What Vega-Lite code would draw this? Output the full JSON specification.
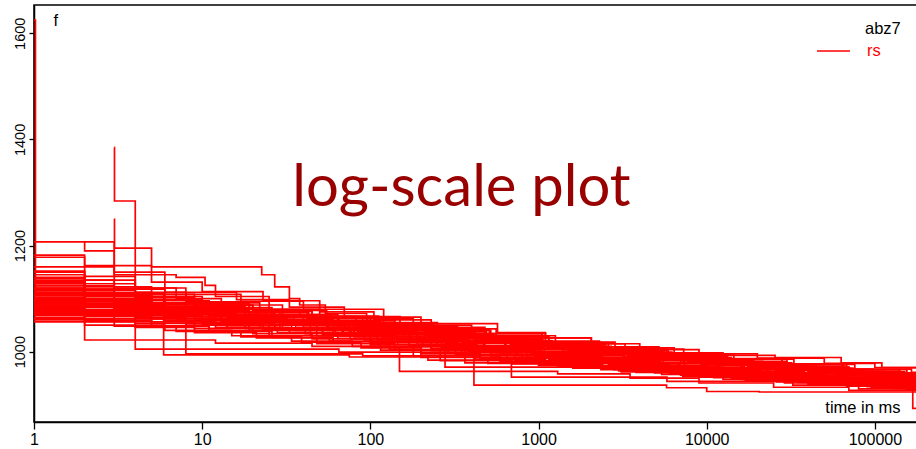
{
"$schema": "https://vega.github.io/schema/vega-lite/v6.json",
"width": 883, "height": 417,
"autosize": {"type": "none"},
"padding": {"left": 34, "top": 5, "right": 0, "bottom": 27},
"background": "white",
"title": {"text": "log-scale plot", "font": "Lato", "fontSize": 58, "fontWeight": "normal", "color": "#990000", "anchor": "middle", "orient": "top", "offset": -259, "dx": -14, "baseline": "alphabetic"},
"config": {"view": {"stroke": "#000", "strokeWidth": 1.5}, "font": "Liberation Sans"},
"data": {"values": [
{"r":1,"t":1,"f":1625},{"r":1,"t":1.02,"f":1112},{"r":1,"t":2,"f":1098},{"r":1,"t":5,"f":1090},{"r":1,"t":9,"f":1079},{"r":1,"t":18,"f":1070},{"r":1,"t":40,"f":1058},{"r":1,"t":85,"f":1047},{"r":1,"t":170,"f":1036},{"r":1,"t":420,"f":1021},{"r":1,"t":900,"f":1010},{"r":1,"t":2100,"f":999},{"r":1,"t":4800,"f":988},{"r":1,"t":11000,"f":977},{"r":1,"t":26000,"f":968},{"r":1,"t":60000,"f":958},{"r":1,"t":130000,"f":951},{"r":1,"t":178000,"f":951},
{"r":2,"t":1,"f":1207},{"r":2,"t":2,"f":1190},{"r":2,"t":3,"f":1150},{"r":2,"t":6,"f":1112},{"r":2,"t":16,"f":1098},{"r":2,"t":33,"f":1084},{"r":2,"t":70,"f":1066},{"r":2,"t":150,"f":1048},{"r":2,"t":330,"f":1030},{"r":2,"t":760,"f":1016},{"r":2,"t":1600,"f":1004},{"r":2,"t":3500,"f":994},{"r":2,"t":8500,"f":983},{"r":2,"t":19000,"f":973},{"r":2,"t":45000,"f":962},{"r":2,"t":95000,"f":955},{"r":2,"t":178000,"f":955},
{"r":3,"t":2,"f":1207},{"r":3,"t":3,"f":1120},{"r":3,"t":7,"f":1100},{"r":3,"t":13,"f":1088},{"r":3,"t":30,"f":1070},{"r":3,"t":64,"f":1058},{"r":3,"t":140,"f":1042},{"r":3,"t":300,"f":1028},{"r":3,"t":700,"f":1012},{"r":3,"t":1500,"f":1001},{"r":3,"t":3200,"f":990},{"r":3,"t":7000,"f":980},{"r":3,"t":16000,"f":970},{"r":3,"t":38000,"f":960},{"r":3,"t":90000,"f":950},{"r":3,"t":178000,"f":950},
{"r":4,"t":3,"f":1385},{"r":4,"t":3.01,"f":1284},{"r":4,"t":4,"f":1005},{"r":4,"t":65,"f":999},{"r":4,"t":180,"f":992},{"r":4,"t":450,"f":986},{"r":4,"t":1100,"f":978},{"r":4,"t":2400,"f":971},{"r":4,"t":5500,"f":963},{"r":4,"t":12500,"f":955},{"r":4,"t":30000,"f":947},{"r":4,"t":70000,"f":940},{"r":4,"t":150000,"f":935},{"r":4,"t":178000,"f":935},
{"r":5,"t":3,"f":1250},{"r":5,"t":3.01,"f":1195},{"r":5,"t":5,"f":1160},{"r":5,"t":22.6,"f":1145},{"r":5,"t":27,"f":1122},{"r":5,"t":33,"f":1100},{"r":5,"t":38,"f":1088},{"r":5,"t":54,"f":1072},{"r":5,"t":95,"f":1062},{"r":5,"t":180,"f":1050},{"r":5,"t":400,"f":1034},{"r":5,"t":1100,"f":1026},{"r":5,"t":2060,"f":1015},{"r":5,"t":3270,"f":1005},{"r":5,"t":7300,"f":998},{"r":5,"t":12500,"f":993},{"r":5,"t":25500,"f":989},{"r":5,"t":63000,"f":979},{"r":5,"t":110000,"f":970},{"r":5,"t":178000,"f":966},
{"r":6,"t":1,"f":1182},{"r":6,"t":2,"f":1160},{"r":6,"t":3,"f":1145},{"r":6,"t":7,"f":1140},{"r":6,"t":10.4,"f":1125},{"r":6,"t":12,"f":1104},{"r":6,"t":25,"f":1078},{"r":6,"t":55,"f":1064},{"r":6,"t":120,"f":1050},{"r":6,"t":240,"f":1040},{"r":6,"t":520,"f":1028},{"r":6,"t":1150,"f":1014},{"r":6,"t":2500,"f":1003},{"r":6,"t":5800,"f":992},{"r":6,"t":13000,"f":981},{"r":6,"t":30000,"f":971},{"r":6,"t":70000,"f":962},{"r":6,"t":150000,"f":956},{"r":6,"t":178000,"f":956},
{"r":7,"t":1,"f":1178},{"r":7,"t":2,"f":1162},{"r":7,"t":5,"f":1131},{"r":7,"t":10,"f":1113},{"r":7,"t":23,"f":1096},{"r":7,"t":50,"f":1075},{"r":7,"t":105,"f":1060},{"r":7,"t":230,"f":1046},{"r":7,"t":480,"f":1034},{"r":7,"t":1050,"f":1020},{"r":7,"t":2300,"f":1009},{"r":7,"t":5200,"f":998},{"r":7,"t":12000,"f":987},{"r":7,"t":28000,"f":977},{"r":7,"t":65000,"f":966},{"r":7,"t":140000,"f":960},{"r":7,"t":178000,"f":960},
{"r":8,"t":1,"f":1160},{"r":8,"t":2,"f":1142},{"r":8,"t":4,"f":1108},{"r":8,"t":9,"f":1090},{"r":8,"t":19,"f":1074},{"r":8,"t":42,"f":1063},{"r":8,"t":90,"f":1049},{"r":8,"t":190,"f":1036},{"r":8,"t":410,"f":1024},{"r":8,"t":880,"f":1011},{"r":8,"t":1900,"f":1000},{"r":8,"t":4300,"f":990},{"r":8,"t":9500,"f":980},{"r":8,"t":22000,"f":970},{"r":8,"t":52000,"f":961},{"r":8,"t":120000,"f":953},{"r":8,"t":178000,"f":953},
{"r":9,"t":1,"f":1152},{"r":9,"t":2,"f":1118},{"r":9,"t":6,"f":1096},{"r":9,"t":11,"f":1083},{"r":9,"t":26,"f":1070},{"r":9,"t":58,"f":1057},{"r":9,"t":115,"f":1044},{"r":9,"t":250,"f":1031},{"r":9,"t":560,"f":1018},{"r":9,"t":1200,"f":1006},{"r":9,"t":2700,"f":996},{"r":9,"t":6000,"f":985},{"r":9,"t":14000,"f":975},{"r":9,"t":32000,"f":965},{"r":9,"t":75000,"f":956},{"r":9,"t":160000,"f":950},{"r":9,"t":178000,"f":950},
{"r":10,"t":1,"f":1145},{"r":10,"t":2,"f":1022},{"r":10,"t":12,"f":1016},{"r":10,"t":45,"f":1010},{"r":10,"t":130,"f":1004},{"r":10,"t":350,"f":995},{"r":10,"t":800,"f":988},{"r":10,"t":1800,"f":980},{"r":10,"t":4000,"f":973},{"r":10,"t":9000,"f":965},{"r":10,"t":21000,"f":957},{"r":10,"t":50000,"f":949},{"r":10,"t":110000,"f":942},{"r":10,"t":178000,"f":942},
{"r":11,"t":1,"f":1140},{"r":11,"t":2,"f":1128},{"r":11,"t":4,"f":1112},{"r":11,"t":8,"f":1094},{"r":11,"t":17,"f":1080},{"r":11,"t":38,"f":1066},{"r":11,"t":82,"f":1053},{"r":11,"t":175,"f":1040},{"r":11,"t":390,"f":1027},{"r":11,"t":860,"f":1014},{"r":11,"t":1900,"f":1003},{"r":11,"t":4200,"f":992},{"r":11,"t":9400,"f":982},{"r":11,"t":21500,"f":972},{"r":11,"t":50000,"f":963},{"r":11,"t":115000,"f":956},{"r":11,"t":178000,"f":956},
{"r":12,"t":1,"f":1135},{"r":12,"t":3,"f":1110},{"r":12,"t":5.9,"f":994},{"r":12,"t":75,"f":990},{"r":12,"t":220,"f":984},{"r":12,"t":500,"f":978},{"r":12,"t":1300,"f":971},{"r":12,"t":3000,"f":964},{"r":12,"t":7000,"f":956},{"r":12,"t":16000,"f":948},{"r":12,"t":40000,"f":940},{"r":12,"t":90000,"f":934},{"r":12,"t":178000,"f":934},
{"r":13,"t":1,"f":1130},{"r":13,"t":2,"f":1108},{"r":13,"t":8,"f":996},{"r":13,"t":90,"f":992},{"r":13,"t":260,"f":983},{"r":13,"t":700,"f":977},{"r":13,"t":1600,"f":969},{"r":13,"t":3800,"f":961},{"r":13,"t":9000,"f":952},{"r":13,"t":22000,"f":945},{"r":13,"t":55000,"f":938},{"r":13,"t":130000,"f":931},{"r":13,"t":178000,"f":931},
{"r":14,"t":1,"f":1125},{"r":14,"t":2,"f":1095},{"r":14,"t":4,"f":1080},{"r":14,"t":10,"f":1060},{"r":14,"t":25,"f":1045},{"r":14,"t":60,"f":1030},{"r":14,"t":130,"f":1008},{"r":14,"t":200,"f":989},{"r":14,"t":413,"f":937},{"r":14,"t":5770,"f":932},{"r":14,"t":10000,"f":925},{"r":14,"t":20500,"f":924},{"r":14,"t":178000,"f":924},
{"r":15,"t":1,"f":1120},{"r":15,"t":2,"f":1100},{"r":15,"t":5,"f":1084},{"r":15,"t":11,"f":1070},{"r":15,"t":24,"f":1058},{"r":15,"t":55,"f":1043},{"r":15,"t":120,"f":1028},{"r":15,"t":280,"f":1005},{"r":15,"t":420,"f":986},{"r":15,"t":690,"f":952},{"r":15,"t":5800,"f":944},{"r":15,"t":32500,"f":937},{"r":15,"t":80000,"f":930},{"r":15,"t":178000,"f":930},
{"r":16,"t":1,"f":1115},{"r":16,"t":2,"f":1090},{"r":16,"t":4,"f":1074},{"r":16,"t":9,"f":1062},{"r":16,"t":20,"f":1050},{"r":16,"t":48,"f":1030},{"r":16,"t":100,"f":1008},{"r":16,"t":149,"f":963},{"r":16,"t":1300,"f":958},{"r":16,"t":3500,"f":950},{"r":16,"t":9000,"f":941},{"r":16,"t":25000,"f":933},{"r":16,"t":70000,"f":927},{"r":16,"t":178000,"f":927},
{"r":17,"t":1,"f":1110},{"r":17,"t":3,"f":1092},{"r":17,"t":7,"f":1076},{"r":17,"t":15,"f":1064},{"r":17,"t":35,"f":1050},{"r":17,"t":80,"f":1036},{"r":17,"t":150,"f":1018},{"r":17,"t":278,"f":971},{"r":17,"t":2800,"f":966},{"r":17,"t":6000,"f":958},{"r":17,"t":14000,"f":950},{"r":17,"t":35000,"f":942},{"r":17,"t":90000,"f":935},{"r":17,"t":178000,"f":935},
{"r":18,"t":1,"f":1105},{"r":18,"t":2,"f":1094},{"r":18,"t":5,"f":1082},{"r":18,"t":12,"f":1070},{"r":18,"t":30,"f":1054},{"r":18,"t":70,"f":1040},{"r":18,"t":160,"f":1024},{"r":18,"t":365,"f":979},{"r":18,"t":1000,"f":974},{"r":18,"t":2500,"f":968},{"r":18,"t":6500,"f":960},{"r":18,"t":15000,"f":952},{"r":18,"t":40000,"f":944},{"r":18,"t":100000,"f":937},{"r":18,"t":178000,"f":937},
{"r":19,"t":1,"f":1100},{"r":19,"t":2,"f":1088},{"r":19,"t":6,"f":1076},{"r":19,"t":14,"f":1063},{"r":19,"t":32,"f":1050},{"r":19,"t":75,"f":1036},{"r":19,"t":170,"f":1022},{"r":19,"t":390,"f":1008},{"r":19,"t":900,"f":996},{"r":19,"t":2000,"f":985},{"r":19,"t":4500,"f":974},{"r":19,"t":10000,"f":963},{"r":19,"t":24000,"f":953},{"r":19,"t":60000,"f":942},{"r":19,"t":168000,"f":893},{"r":19,"t":178000,"f":893},
{"r":20,"t":1,"f":1096},{"r":20,"t":3,"f":1083},{"r":20,"t":8,"f":1070},{"r":20,"t":18,"f":1058},{"r":20,"t":40,"f":1046},{"r":20,"t":95,"f":1032},{"r":20,"t":210,"f":1019},{"r":20,"t":470,"f":1006},{"r":20,"t":1000,"f":995},{"r":20,"t":2300,"f":984},{"r":20,"t":5300,"f":973},{"r":20,"t":12000,"f":963},{"r":20,"t":28000,"f":954},{"r":20,"t":66000,"f":946},{"r":20,"t":150000,"f":940},{"r":20,"t":178000,"f":940},
{"r":21,"t":1,"f":1092},{"r":21,"t":2,"f":1080},{"r":21,"t":5,"f":1070},{"r":21,"t":13,"f":1058},{"r":21,"t":29,"f":1044},{"r":21,"t":68,"f":1031},{"r":21,"t":145,"f":1018},{"r":21,"t":330,"f":1004},{"r":21,"t":750,"f":993},{"r":21,"t":1700,"f":983},{"r":21,"t":4000,"f":972},{"r":21,"t":9200,"f":962},{"r":21,"t":21000,"f":953},{"r":21,"t":48000,"f":945},{"r":21,"t":110000,"f":939},{"r":21,"t":178000,"f":939},
{"r":22,"t":1,"f":1088},{"r":22,"t":2,"f":1076},{"r":22,"t":4,"f":1068},{"r":22,"t":10,"f":1055},{"r":22,"t":22,"f":1045},{"r":22,"t":52,"f":1033},{"r":22,"t":110,"f":1022},{"r":22,"t":250,"f":1010},{"r":22,"t":560,"f":998},{"r":22,"t":1250,"f":988},{"r":22,"t":2900,"f":978},{"r":22,"t":6800,"f":968},{"r":22,"t":16000,"f":958},{"r":22,"t":37000,"f":950},{"r":22,"t":85000,"f":943},{"r":22,"t":178000,"f":943},
{"r":23,"t":1,"f":1084},{"r":23,"t":3,"f":1072},{"r":23,"t":7,"f":1062},{"r":23,"t":16,"f":1050},{"r":23,"t":36,"f":1040},{"r":23,"t":80,"f":1028},{"r":23,"t":190,"f":1014},{"r":23,"t":430,"f":1002},{"r":23,"t":950,"f":991},{"r":23,"t":2200,"f":980},{"r":23,"t":5000,"f":970},{"r":23,"t":11500,"f":960},{"r":23,"t":27000,"f":952},{"r":23,"t":62000,"f":945},{"r":23,"t":140000,"f":938},{"r":23,"t":178000,"f":938},
{"r":24,"t":1,"f":1080},{"r":24,"t":2,"f":1068},{"r":24,"t":6,"f":1058},{"r":24,"t":14,"f":1046},{"r":24,"t":33,"f":1036},{"r":24,"t":76,"f":1024},{"r":24,"t":170,"f":1012},{"r":24,"t":380,"f":1000},{"r":24,"t":850,"f":989},{"r":24,"t":1900,"f":979},{"r":24,"t":4400,"f":969},{"r":24,"t":10000,"f":959},{"r":24,"t":23000,"f":950},{"r":24,"t":54000,"f":942},{"r":24,"t":125000,"f":936},{"r":24,"t":178000,"f":936},
{"r":25,"t":1,"f":1076},{"r":25,"t":2,"f":1070},{"r":25,"t":5,"f":1063},{"r":25,"t":12,"f":1054},{"r":25,"t":27,"f":1042},{"r":25,"t":62,"f":1030},{"r":25,"t":135,"f":1017},{"r":25,"t":300,"f":1005},{"r":25,"t":680,"f":994},{"r":25,"t":1500,"f":984},{"r":25,"t":3400,"f":974},{"r":25,"t":7800,"f":964},{"r":25,"t":18000,"f":955},{"r":25,"t":42000,"f":947},{"r":25,"t":98000,"f":941},{"r":25,"t":178000,"f":941},
{"r":26,"t":1,"f":1072},{"r":26,"t":3,"f":1062},{"r":26,"t":8,"f":1050},{"r":26,"t":19,"f":1040},{"r":26,"t":44,"f":1030},{"r":26,"t":100,"f":1018},{"r":26,"t":230,"f":1006},{"r":26,"t":520,"f":995},{"r":26,"t":1150,"f":985},{"r":26,"t":2600,"f":975},{"r":26,"t":6000,"f":966},{"r":26,"t":14000,"f":957},{"r":26,"t":33000,"f":949},{"r":26,"t":77000,"f":943},{"r":26,"t":178000,"f":943},
{"r":27,"t":1,"f":1068},{"r":27,"t":2,"f":1058},{"r":27,"t":5,"f":1048},{"r":27,"t":11,"f":1038},{"r":27,"t":26,"f":1027},{"r":27,"t":60,"f":1016},{"r":27,"t":140,"f":1004},{"r":27,"t":320,"f":994},{"r":27,"t":720,"f":983},{"r":27,"t":1600,"f":974},{"r":27,"t":3700,"f":964},{"r":27,"t":8500,"f":955},{"r":27,"t":20000,"f":947},{"r":27,"t":47000,"f":940},{"r":27,"t":110000,"f":934},{"r":27,"t":178000,"f":934},
{"r":28,"t":1,"f":1064},{"r":28,"t":2,"f":1056},{"r":28,"t":4,"f":1046},{"r":28,"t":9,"f":1036},{"r":28,"t":21,"f":1026},{"r":28,"t":48,"f":1015},{"r":28,"t":115,"f":1003},{"r":28,"t":260,"f":992},{"r":28,"t":590,"f":982},{"r":28,"t":1350,"f":972},{"r":28,"t":3100,"f":962},{"r":28,"t":7200,"f":953},{"r":28,"t":17000,"f":945},{"r":28,"t":40000,"f":938},{"r":28,"t":95000,"f":932},{"r":28,"t":178000,"f":932},
{"r":29,"t":1,"f":1060},{"r":29,"t":3,"f":1048},{"r":29,"t":7,"f":1038},{"r":29,"t":17,"f":1028},{"r":29,"t":39,"f":1018},{"r":29,"t":88,"f":1007},{"r":29,"t":200,"f":996},{"r":29,"t":450,"f":986},{"r":29,"t":1020,"f":976},{"r":29,"t":2350,"f":966},{"r":29,"t":5400,"f":957},{"r":29,"t":12500,"f":948},{"r":29,"t":29000,"f":941},{"r":29,"t":68000,"f":935},{"r":29,"t":155000,"f":929},{"r":29,"t":178000,"f":929},
{"r":30,"t":1,"f":1056},{"r":30,"t":2,"f":1050},{"r":30,"t":6,"f":1040},{"r":30,"t":15,"f":1030},{"r":30,"t":34,"f":1020},{"r":30,"t":78,"f":1010},{"r":30,"t":180,"f":999},{"r":30,"t":410,"f":989},{"r":30,"t":920,"f":979},{"r":30,"t":2100,"f":969},{"r":30,"t":4900,"f":960},{"r":30,"t":11000,"f":951},{"r":30,"t":26000,"f":943},{"r":30,"t":61000,"f":937},{"r":30,"t":140000,"f":931},{"r":30,"t":178000,"f":931},
{"r":31,"t":1,"f":1150},{"r":31,"t":2,"f":1135},{"r":31,"t":4,"f":1120},{"r":31,"t":8,"f":1108},{"r":31,"t":17,"f":1095},{"r":31,"t":40,"f":1080},{"r":31,"t":120,"f":1065},{"r":31,"t":200,"f":1053},{"r":31,"t":570,"f":1036},{"r":31,"t":1100,"f":1026},{"r":31,"t":2060,"f":1015},{"r":31,"t":4000,"f":1004},{"r":31,"t":9000,"f":996},{"r":31,"t":20000,"f":988},{"r":31,"t":50000,"f":978},{"r":31,"t":100000,"f":970},{"r":31,"t":178000,"f":968},
{"r":32,"t":1,"f":1120},{"r":32,"t":2,"f":1112},{"r":32,"t":5,"f":1098},{"r":32,"t":10,"f":1087},{"r":32,"t":20,"f":1076},{"r":32,"t":45,"f":1064},{"r":32,"t":100,"f":1052},{"r":32,"t":220,"f":1040},{"r":32,"t":480,"f":1028},{"r":32,"t":1050,"f":1016},{"r":32,"t":2400,"f":1006},{"r":32,"t":5500,"f":996},{"r":32,"t":12000,"f":986},{"r":32,"t":28000,"f":976},{"r":32,"t":64000,"f":966},{"r":32,"t":140000,"f":960},{"r":32,"t":178000,"f":960},
{"r":33,"t":1,"f":1108},{"r":33,"t":2,"f":1100},{"r":33,"t":4,"f":1090},{"r":33,"t":9,"f":1080},{"r":33,"t":21,"f":1068},{"r":33,"t":46,"f":1056},{"r":33,"t":105,"f":1045},{"r":33,"t":240,"f":1033},{"r":33,"t":530,"f":1021},{"r":33,"t":1200,"f":1010},{"r":33,"t":2700,"f":999},{"r":33,"t":6200,"f":989},{"r":33,"t":14000,"f":979},{"r":33,"t":32000,"f":969},{"r":33,"t":74000,"f":960},{"r":33,"t":160000,"f":954},{"r":33,"t":178000,"f":954},
{"r":34,"t":1,"f":1098},{"r":34,"t":3,"f":1088},{"r":34,"t":6,"f":1078},{"r":34,"t":13,"f":1067},{"r":34,"t":30,"f":1056},{"r":34,"t":66,"f":1044},{"r":34,"t":150,"f":1033},{"r":34,"t":340,"f":1021},{"r":34,"t":780,"f":1010},{"r":34,"t":1750,"f":999},{"r":34,"t":3900,"f":989},{"r":34,"t":8800,"f":979},{"r":34,"t":20000,"f":970},{"r":34,"t":46000,"f":961},{"r":34,"t":105000,"f":953},{"r":34,"t":178000,"f":952},
{"r":35,"t":1,"f":1128},{"r":35,"t":2,"f":1118},{"r":35,"t":4,"f":1098},{"r":35,"t":8,"f":1086},{"r":35,"t":18,"f":1075},{"r":35,"t":43,"f":1062},{"r":35,"t":96,"f":1050},{"r":35,"t":215,"f":1038},{"r":35,"t":490,"f":1025},{"r":35,"t":1100,"f":1013},{"r":35,"t":2500,"f":1002},{"r":35,"t":5600,"f":991},{"r":35,"t":13000,"f":981},{"r":35,"t":30000,"f":971},{"r":35,"t":70000,"f":962},{"r":35,"t":150000,"f":956},{"r":35,"t":178000,"f":956},
{"r":36,"t":1,"f":1090},{"r":36,"t":2,"f":1084},{"r":36,"t":4,"f":1077},{"r":36,"t":9,"f":1066},{"r":36,"t":20,"f":1055},{"r":36,"t":44,"f":1044},{"r":36,"t":98,"f":1032},{"r":36,"t":215,"f":1020},{"r":36,"t":480,"f":1008},{"r":36,"t":1080,"f":997},{"r":36,"t":2400,"f":987},{"r":36,"t":5500,"f":977},{"r":36,"t":12500,"f":967},{"r":36,"t":29000,"f":958},{"r":36,"t":68000,"f":950},{"r":36,"t":150000,"f":945},{"r":36,"t":178000,"f":945},
{"r":37,"t":1,"f":1112},{"r":37,"t":3,"f":1096},{"r":37,"t":6,"f":1084},{"r":37,"t":12,"f":1073},{"r":37,"t":27,"f":1061},{"r":37,"t":60,"f":1049},{"r":37,"t":135,"f":1037},{"r":37,"t":300,"f":1025},{"r":37,"t":680,"f":1013},{"r":37,"t":1500,"f":1002},{"r":37,"t":3400,"f":992},{"r":37,"t":7700,"f":982},{"r":37,"t":17500,"f":972},{"r":37,"t":40000,"f":963},{"r":37,"t":92000,"f":956},{"r":37,"t":178000,"f":953},
{"r":38,"t":1,"f":1102},{"r":38,"t":2,"f":1090},{"r":38,"t":5,"f":1080},{"r":38,"t":11,"f":1069},{"r":38,"t":25,"f":1057},{"r":38,"t":57,"f":1046},{"r":38,"t":125,"f":1034},{"r":38,"t":280,"f":1022},{"r":38,"t":630,"f":1010},{"r":38,"t":1400,"f":999},{"r":38,"t":3200,"f":989},{"r":38,"t":7300,"f":979},{"r":38,"t":16500,"f":969},{"r":38,"t":38000,"f":960},{"r":38,"t":88000,"f":952},{"r":38,"t":178000,"f":948},
{"r":39,"t":1,"f":1086},{"r":39,"t":2,"f":1078},{"r":39,"t":6,"f":1066},{"r":39,"t":13,"f":1056},{"r":39,"t":30,"f":1045},{"r":39,"t":69,"f":1034},{"r":39,"t":155,"f":1022},{"r":39,"t":350,"f":1011},{"r":39,"t":790,"f":1000},{"r":39,"t":1800,"f":990},{"r":39,"t":4100,"f":980},{"r":39,"t":9300,"f":970},{"r":39,"t":21000,"f":961},{"r":39,"t":49000,"f":952},{"r":39,"t":115000,"f":945},{"r":39,"t":178000,"f":944},
{"r":40,"t":1,"f":1116},{"r":40,"t":2,"f":1104},{"r":40,"t":4,"f":1092},{"r":40,"t":9,"f":1081},{"r":40,"t":19,"f":1070},{"r":40,"t":42,"f":1058},{"r":40,"t":94,"f":1046},{"r":40,"t":210,"f":1035},{"r":40,"t":470,"f":1023},{"r":40,"t":1060,"f":1012},{"r":40,"t":2400,"f":1001},{"r":40,"t":5400,"f":991},{"r":40,"t":12300,"f":981},{"r":40,"t":28000,"f":971},{"r":40,"t":64000,"f":962},{"r":40,"t":145000,"f":955},{"r":40,"t":178000,"f":955},
{"r":41,"t":1,"f":1094},{"r":41,"t":3,"f":1082},{"r":41,"t":7,"f":1072},{"r":41,"t":16,"f":1060},{"r":41,"t":37,"f":1049},{"r":41,"t":84,"f":1038},{"r":41,"t":190,"f":1026},{"r":41,"t":430,"f":1015},{"r":41,"t":960,"f":1004},{"r":41,"t":2200,"f":994},{"r":41,"t":4900,"f":984},{"r":41,"t":11200,"f":974},{"r":41,"t":25500,"f":965},{"r":41,"t":58000,"f":956},{"r":41,"t":130000,"f":949},{"r":41,"t":178000,"f":948},
{"r":42,"t":1,"f":1074},{"r":42,"t":2,"f":1066},{"r":42,"t":5,"f":1056},{"r":42,"t":12,"f":1046},{"r":42,"t":28,"f":1036},{"r":42,"t":64,"f":1025},{"r":42,"t":145,"f":1014},{"r":42,"t":330,"f":1003},{"r":42,"t":740,"f":993},{"r":42,"t":1700,"f":983},{"r":42,"t":3800,"f":973},{"r":42,"t":8700,"f":963},{"r":42,"t":19800,"f":954},{"r":42,"t":45000,"f":946},{"r":42,"t":102000,"f":940},{"r":42,"t":178000,"f":939},
{"r":43,"t":1,"f":1138},{"r":43,"t":2,"f":1122},{"r":43,"t":5,"f":1104},{"r":43,"t":10,"f":1092},{"r":43,"t":22,"f":1080},{"r":43,"t":50,"f":1067},{"r":43,"t":112,"f":1055},{"r":43,"t":250,"f":1043},{"r":43,"t":560,"f":1030},{"r":43,"t":1260,"f":1018},{"r":43,"t":2850,"f":1007},{"r":43,"t":6400,"f":996},{"r":43,"t":14500,"f":986},{"r":43,"t":33000,"f":976},{"r":43,"t":76000,"f":967},{"r":43,"t":165000,"f":961},{"r":43,"t":178000,"f":961},
{"r":44,"t":1,"f":1082},{"r":44,"t":2,"f":1074},{"r":44,"t":4,"f":1064},{"r":44,"t":8,"f":1054},{"r":44,"t":18,"f":1044},{"r":44,"t":41,"f":1034},{"r":44,"t":92,"f":1022},{"r":44,"t":205,"f":1012},{"r":44,"t":460,"f":1001},{"r":44,"t":1040,"f":991},{"r":44,"t":2350,"f":981},{"r":44,"t":5300,"f":971},{"r":44,"t":12000,"f":962},{"r":44,"t":27500,"f":953},{"r":44,"t":63000,"f":945},{"r":44,"t":140000,"f":939},{"r":44,"t":178000,"f":939},
{"r":45,"t":1,"f":1106},{"r":45,"t":2,"f":1096},{"r":45,"t":5,"f":1086},{"r":45,"t":11,"f":1075},{"r":45,"t":24,"f":1064},{"r":45,"t":55,"f":1052},{"r":45,"t":124,"f":1040},{"r":45,"t":280,"f":1028},{"r":45,"t":630,"f":1016},{"r":45,"t":1420,"f":1005},{"r":45,"t":3200,"f":995},{"r":45,"t":7200,"f":985},{"r":45,"t":16300,"f":975},{"r":45,"t":37000,"f":966},{"r":45,"t":85000,"f":958},{"r":45,"t":178000,"f":953},
{"r":46,"t":1,"f":1118},{"r":46,"t":2,"f":1106},{"r":46,"t":5,"f":1092},{"r":46,"t":10,"f":1080},{"r":46,"t":22,"f":1068},{"r":46,"t":48,"f":1057},{"r":46,"t":108,"f":1044},{"r":46,"t":240,"f":1032},{"r":46,"t":540,"f":1020},{"r":46,"t":1200,"f":1008},{"r":46,"t":2700,"f":998},{"r":46,"t":6100,"f":988},{"r":46,"t":13800,"f":978},{"r":46,"t":31000,"f":968},{"r":46,"t":71000,"f":960},{"r":46,"t":160000,"f":953},{"r":46,"t":178000,"f":953},
{"r":47,"t":1,"f":1100},{"r":47,"t":3,"f":1086},{"r":47,"t":6,"f":1075},{"r":47,"t":14,"f":1064},{"r":47,"t":31,"f":1052},{"r":47,"t":71,"f":1041},{"r":47,"t":160,"f":1029},{"r":47,"t":360,"f":1017},{"r":47,"t":810,"f":1006},{"r":47,"t":1830,"f":996},{"r":47,"t":4100,"f":986},{"r":47,"t":9300,"f":976},{"r":47,"t":21000,"f":966},{"r":47,"t":48000,"f":958},{"r":47,"t":110000,"f":951},{"r":47,"t":178000,"f":949},
{"r":48,"t":1,"f":1078},{"r":48,"t":2,"f":1072},{"r":48,"t":4,"f":1062},{"r":48,"t":10,"f":1051},{"r":48,"t":23,"f":1041},{"r":48,"t":52,"f":1030},{"r":48,"t":118,"f":1019},{"r":48,"t":265,"f":1008},{"r":48,"t":600,"f":998},{"r":48,"t":1350,"f":988},{"r":48,"t":3050,"f":978},{"r":48,"t":6900,"f":968},{"r":48,"t":15600,"f":959},{"r":48,"t":35500,"f":951},{"r":48,"t":80000,"f":944},{"r":48,"t":178000,"f":941},
{"r":49,"t":1,"f":1132},{"r":49,"t":2,"f":1116},{"r":49,"t":4,"f":1102},{"r":49,"t":9,"f":1088},{"r":49,"t":20,"f":1077},{"r":49,"t":45,"f":1066},{"r":49,"t":100,"f":1054},{"r":49,"t":230,"f":1042},{"r":49,"t":510,"f":1029},{"r":49,"t":1150,"f":1017},{"r":49,"t":2600,"f":1006},{"r":49,"t":5900,"f":995},{"r":49,"t":13300,"f":985},{"r":49,"t":30000,"f":975},{"r":49,"t":68000,"f":966},{"r":49,"t":155000,"f":959},{"r":49,"t":178000,"f":959},
{"r":50,"t":1,"f":1062},{"r":50,"t":2,"f":1057},{"r":50,"t":5,"f":1049},{"r":50,"t":11,"f":1040},{"r":50,"t":25,"f":1030},{"r":50,"t":57,"f":1020},{"r":50,"t":128,"f":1009},{"r":50,"t":290,"f":998},{"r":50,"t":650,"f":988},{"r":50,"t":1470,"f":978},{"r":50,"t":3300,"f":968},{"r":50,"t":7500,"f":959},{"r":50,"t":17000,"f":950},{"r":50,"t":38500,"f":943},{"r":50,"t":87000,"f":937},{"r":50,"t":178000,"f":934},
{"r":51,"t":1,"f":1094},{"r":51,"t":2,"f":1086},{"r":51,"t":5,"f":1074},{"r":51,"t":11,"f":1063},{"r":51,"t":25,"f":1052},{"r":51,"t":56,"f":1040},{"r":51,"t":125,"f":1029},{"r":51,"t":285,"f":1016},{"r":51,"t":640,"f":1004},{"r":51,"t":1450,"f":993},{"r":51,"t":3250,"f":983},{"r":51,"t":7400,"f":973},{"r":51,"t":16700,"f":963},{"r":51,"t":38000,"f":955},{"r":51,"t":86000,"f":948},{"r":51,"t":178000,"f":945},
{"r":52,"t":1,"f":1124},{"r":52,"t":3,"f":1104},{"r":52,"t":6,"f":1090},{"r":52,"t":13,"f":1079},{"r":52,"t":29,"f":1066},{"r":52,"t":65,"f":1054},{"r":52,"t":145,"f":1041},{"r":52,"t":325,"f":1029},{"r":52,"t":730,"f":1017},{"r":52,"t":1650,"f":1006},{"r":52,"t":3700,"f":996},{"r":52,"t":8400,"f":986},{"r":52,"t":19000,"f":976},{"r":52,"t":43000,"f":967},{"r":52,"t":97000,"f":959},{"r":52,"t":178000,"f":956},
{"r":53,"t":1,"f":1070},{"r":53,"t":2,"f":1062},{"r":53,"t":4,"f":1054},{"r":53,"t":9,"f":1044},{"r":53,"t":20,"f":1034},{"r":53,"t":45,"f":1024},{"r":53,"t":102,"f":1013},{"r":53,"t":230,"f":1002},{"r":53,"t":520,"f":992},{"r":53,"t":1170,"f":982},{"r":53,"t":2650,"f":972},{"r":53,"t":6000,"f":962},{"r":53,"t":13500,"f":953},{"r":53,"t":30500,"f":946},{"r":53,"t":69000,"f":940},{"r":53,"t":155000,"f":935},{"r":53,"t":178000,"f":935},
{"r":54,"t":1,"f":1110},{"r":54,"t":2,"f":1098},{"r":54,"t":4,"f":1088},{"r":54,"t":8,"f":1078},{"r":54,"t":19,"f":1066},{"r":54,"t":43,"f":1054},{"r":54,"t":96,"f":1043},{"r":54,"t":218,"f":1031},{"r":54,"t":490,"f":1019},{"r":54,"t":1110,"f":1008},{"r":54,"t":2500,"f":998},{"r":54,"t":5650,"f":988},{"r":54,"t":12800,"f":978},{"r":54,"t":29000,"f":968},{"r":54,"t":66000,"f":959},{"r":54,"t":150000,"f":952},{"r":54,"t":178000,"f":952},
{"r":55,"t":1,"f":1088},{"r":55,"t":3,"f":1076},{"r":55,"t":7,"f":1066},{"r":55,"t":15,"f":1055},{"r":55,"t":34,"f":1044},{"r":55,"t":77,"f":1033},{"r":55,"t":174,"f":1021},{"r":55,"t":392,"f":1010},{"r":55,"t":880,"f":999},{"r":55,"t":2000,"f":989},{"r":55,"t":4500,"f":979},{"r":55,"t":10200,"f":969},{"r":55,"t":23000,"f":960},{"r":55,"t":52000,"f":952},{"r":55,"t":118000,"f":946},{"r":55,"t":178000,"f":944}
]},
"mark": {"type": "line", "interpolate": "step-after", "strokeWidth": 1.7, "clip": true},
"encoding": {
  "x": {"field": "t", "type": "quantitative",
    "scale": {"type": "log", "domain": [1, 178000], "nice": false},
    "axis": {"values": [1, 10, 100, 1000, 10000, 100000], "format": "d", "grid": false,
      "labelFont": "Liberation Sans", "labelFontSize": 16, "labelColor": "#000", "labelPadding": 2, "labelFlush": false, "labelOverlap": false,
      "tickColor": "#000", "tickSize": 7, "tickWidth": 1.3, "domainColor": "#000", "domainWidth": 1.5,
      "title": "time in ms", "titleFont": "Liberation Sans", "titleFontSize": 16.5, "titleFontWeight": "normal", "titleColor": "#000",
      "titleX": 866, "titleY": -10, "titleAlign": "right", "titleBaseline": "alphabetic"}},
  "y": {"field": "f", "type": "quantitative",
    "scale": {"domain": [867.5, 1653.3], "nice": false, "zero": false},
    "axis": {"values": [1000, 1200, 1400, 1600], "format": "d", "grid": false,
      "labelAngle": -90, "labelAlign": "center", "labelBaseline": "bottom",
      "labelFont": "Liberation Sans", "labelFontSize": 14.5, "labelColor": "#000", "labelPadding": 2,
      "tickColor": "#000", "tickSize": 5, "tickWidth": 1.3, "domainColor": "#000", "domainWidth": 1.5,
      "title": "f", "titleAngle": 0, "titleFont": "Liberation Sans", "titleFontSize": 16.5, "titleFontWeight": "normal", "titleColor": "#000",
      "titleX": 19, "titleY": 20, "titleAlign": "left", "titleBaseline": "alphabetic"}},
  "detail": {"field": "r"},
  "color": {"datum": "rs", "scale": {"range": ["#ff0000"]},
    "legend": {"orient": "none", "legendX": 831, "legendY": 16, "padding": 0,
      "title": "abz7", "titleFont": "Liberation Sans", "titleFontSize": 16.5, "titleFontWeight": "normal", "titleColor": "#000", "titlePadding": -4,
      "labelFont": "Liberation Sans", "labelFontSize": 16.5, "labelColor": "#ff0000",
      "symbolType": "stroke", "symbolSize": 1089, "symbolStrokeWidth": 1.5, "symbolOffset": -49, "labelOffset": 16}}
}
}
